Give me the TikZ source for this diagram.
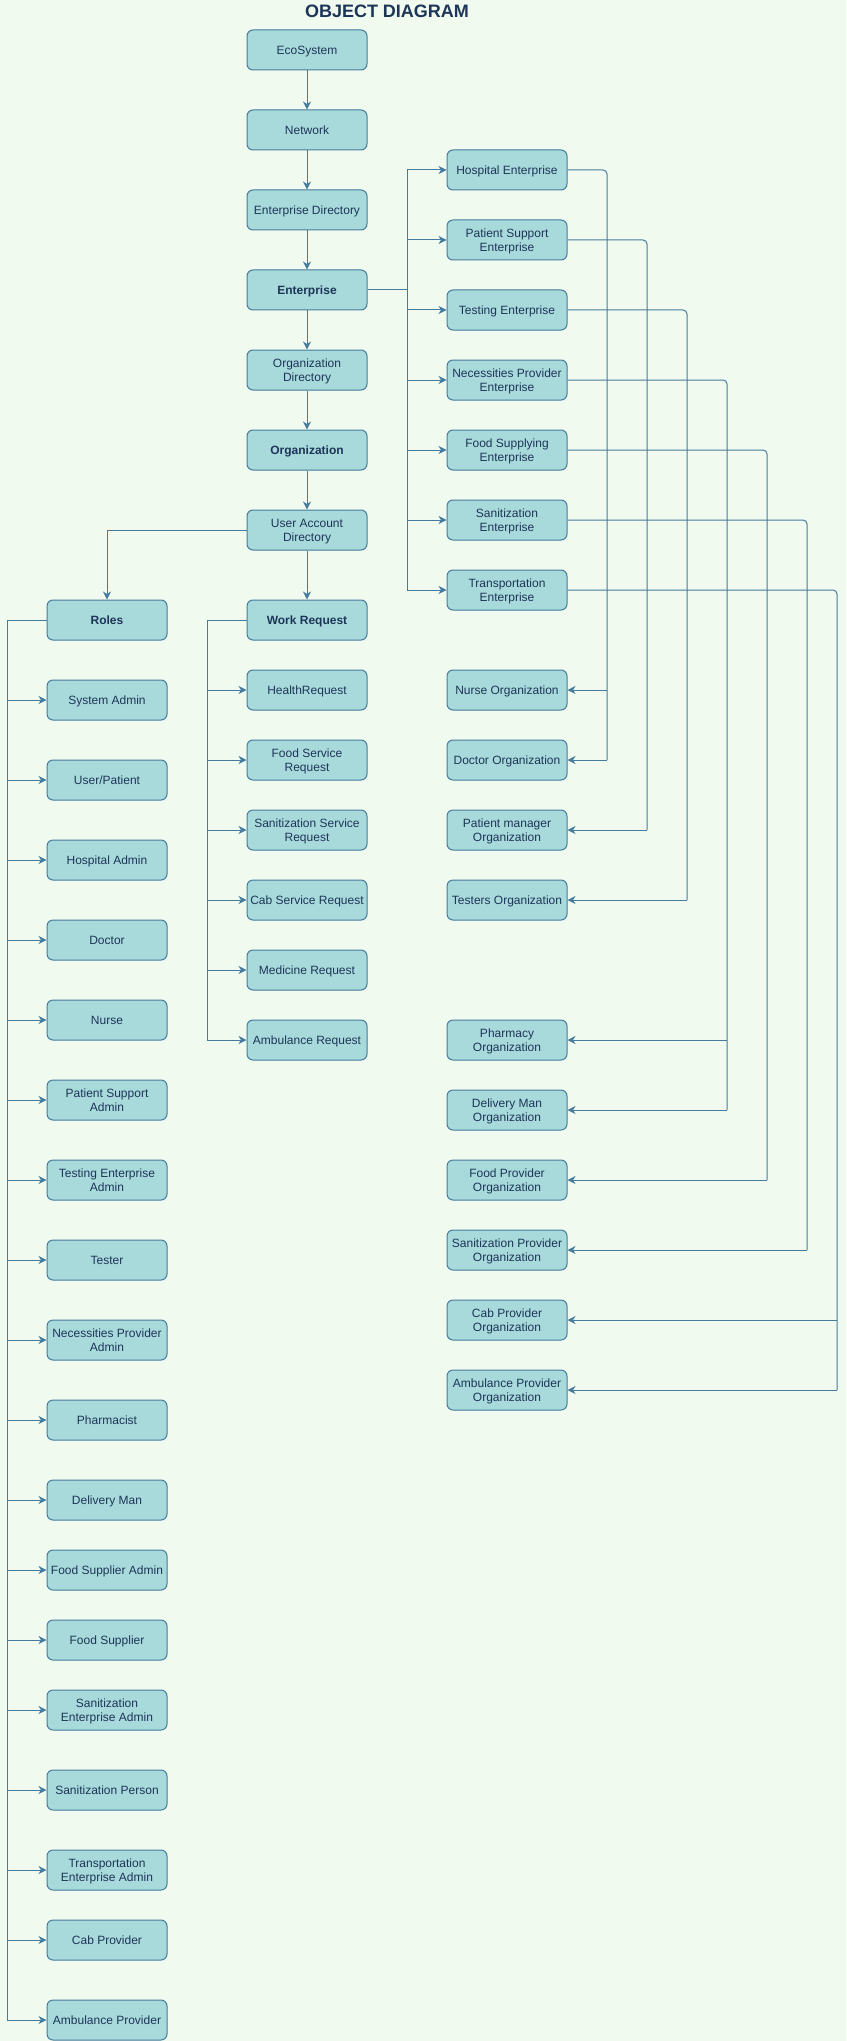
\documentclass[tikz,border=0pt]{standalone}
\usepackage{fontspec}
\setmainfont{Liberation Sans}
\usetikzlibrary{arrows.meta}

\definecolor{bgmint}{HTML}{F1FAEE}
\definecolor{boxfill}{HTML}{A8DADC}
\definecolor{boxline}{HTML}{457B9D}
\definecolor{boxtext}{HTML}{1D3557}

\tikzset{
	objbox/.style={draw=boxline, fill=boxfill, line width=1pt, rounded corners=6pt,
		minimum width=120pt, minimum height=40pt, inner sep=0pt, align=center,
		text depth=0pt, text=boxtext, font=\fontsize{12}{14}\selectfont},
	link/.style={draw=boxline, line width=1pt},
	arr/.style={link, -{Stealth[length=8pt,width=8pt,inset=2.5pt]}}
}

\begin{document}
\begin{tikzpicture}[x=1pt,y=-1pt]
							
							\fill[bgmint] (0,0) rectangle (846,2041);
							\node[inner sep=0pt, text=boxtext, font=\bfseries\fontsize{18}{20}\selectfont] (title) at (387,11) {OBJECT DIAGRAM};
							
							\foreach \name/\y/\txt in {
								eco/50/EcoSystem,
								net/130/Network,
								entdir/210/Enterprise Directory,
								ent/290/\textbf{Enterprise},
								orgdir/370/Organization\\Directory,
								org/450/\textbf{Organization},
								uad/530/User Account\\Directory,
								wreq/620/\textbf{Work Request}}
							{
								\node[objbox] (\name) at (307,\y) {\txt};
							};
							\node[objbox] (roles) at (107,620) {\textbf{Roles}};
							
							\foreach \a/\b in {eco/net, net/entdir, entdir/ent, ent/orgdir, orgdir/org, org/uad, uad/wreq}
								\draw[arr] (\a) -- (\b);
							\draw[arr] (uad.west) -| (roles.north);
							
							\foreach \i/\y/\txt in {
								1/170/Hospital Enterprise,
								2/240/Patient Support\\Enterprise,
								3/310/Testing Enterprise,
								4/380/Necessities Provider\\Enterprise,
								5/450/Food Supplying\\Enterprise,
								6/520/Sanitization\\Enterprise,
								7/590/Transportation\\Enterprise}
							{
								\node[objbox] (ent\i) at (507,\y) {\txt};
							};
							\coordinate (entbus) at (407,290);
							\draw[link] (ent.east) -- (entbus);
							\draw[link] (entbus |- ent1.west) -- (entbus |- ent7.west);
							\foreach \i in {1,...,7}
								\draw[arr] (entbus |- ent\i.west) -- (ent\i.west);
							
							\foreach \i/\y/\txt in {
								1/690/Nurse Organization,
								2/760/Doctor Organization,
								3/830/Patient manager\\Organization,
								4/900/Testers Organization,
								5/1040/Pharmacy\\Organization,
								6/1110/Delivery Man\\Organization,
								7/1180/Food Provider\\Organization,
								8/1250/Sanitization Provider\\Organization,
								9/1320/Cab Provider\\Organization,
								10/1390/Ambulance Provider\\Organization}
							{
								\node[objbox] (unit\i) at (507,\y) {\txt};
							};
							\foreach \e/\x/\first/\last in {1/607/1/2, 2/647/3/3, 3/687/4/4, 4/727/5/6, 5/767/7/7, 6/807/8/8, 7/837/9/10}
							{
								\coordinate (bus\e) at (\x,0);
								\draw[link, rounded corners=4pt] (ent\e.east) -| (bus\e |- unit\last.east);
								\foreach \o in {\first,...,\last}
									\draw[arr] (bus\e |- unit\o.east) -- (unit\o.east);
							};
							
							\foreach \i/\y/\txt in {
								1/700/System Admin,
								2/780/{User/Patient},
								3/860/Hospital Admin,
								4/940/Doctor,
								5/1020/Nurse,
								6/1100/Patient Support\\Admin,
								7/1180/Testing Enterprise\\Admin,
								8/1260/Tester,
								9/1340/Necessities Provider\\Admin,
								10/1420/Pharmacist,
								11/1500/Delivery Man,
								12/1570/Food Supplier Admin,
								13/1640/Food Supplier,
								14/1710/Sanitization\\Enterprise Admin,
								15/1790/Sanitization Person,
								16/1870/Transportation\\Enterprise Admin,
								17/1940/Cab Provider,
								18/2020/Ambulance Provider}
							{
								\node[objbox] (role\i) at (107,\y) {\txt};
							};
							\coordinate (rolebus) at (7,620);
							\draw[link] (roles.west) -- (rolebus) -- (rolebus |- role18.west);
							\foreach \i in {1,...,18}
								\draw[arr] (rolebus |- role\i.west) -- (role\i.west);
							
							\foreach \i/\y/\txt in {
								1/690/HealthRequest,
								2/760/Food Service\\Request,
								3/830/Sanitization Service\\Request,
								4/900/Cab Service Request,
								5/970/Medicine Request,
								6/1040/Ambulance Request}
							{
								\node[objbox] (req\i) at (307,\y) {\txt};
							};
							\coordinate (reqbus) at (207,620);
							\draw[link] (wreq.west) -- (reqbus) -- (reqbus |- req6.west);
							\foreach \i in {1,...,6}
								\draw[arr] (reqbus |- req\i.west) -- (req\i.west);
							
							\end{tikzpicture}
\end{document}
